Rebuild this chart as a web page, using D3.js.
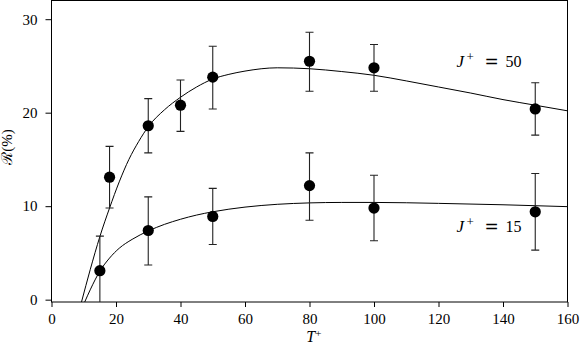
<!DOCTYPE html>
<html>
<head>
<meta charset="utf-8">
<script src="https://cdn.jsdelivr.net/npm/d3@7"></script>
<style>
  body { margin: 0; background: #fff; }
  text { font-family: "Liberation Serif", "DejaVu Serif", serif; }
</style>
</head>
<body>
<div id="my_dataviz"></div>
<script>
// measured points, J+ = 50
var tPlus50 = [18, 30, 40, 50, 80, 100, 150];
var r50     = [13.1, 18.6, 20.8, 23.8, 25.5, 24.8, 20.4];
var r50Lo   = [9.8, 15.7, 18.0, 20.4, 22.3, 22.3, 17.6];
var r50Hi   = [16.4, 21.5, 23.5, 27.1, 28.6, 27.3, 23.2];

// measured points, J+ = 15
var tPlus15 = [15, 30, 50, 80, 100, 150];
var r15     = [3.1, 7.4, 8.9, 12.2, 9.8, 9.4];
var r15Lo   = [-0.6, 3.7, 5.9, 8.5, 6.3, 5.3];
var r15Hi   = [6.8, 11.0, 11.9, 15.7, 13.3, 13.5];

// fitted curves
var fitT50 = [9.3, 12, 15, 18, 21, 24, 27, 30, 35, 40, 45, 50, 55, 60, 70, 80, 90, 100, 110, 120, 130, 140, 150, 160];
var fitR50 = [-0.25, 3.2, 6.75, 9.8, 12.6, 15.0, 16.9, 18.5, 20.3, 21.65, 22.75, 23.6, 24.1, 24.45, 24.8, 24.7, 24.4, 24.0, 23.4, 22.75, 22.1, 21.4, 20.8, 20.2];
var fitT15 = [10.3, 12, 15, 18, 21, 25, 30, 35, 40, 45, 50, 60, 70, 80, 90, 100, 120, 140, 160];
var fitR15 = [-0.25, 1.05, 3.05, 4.45, 5.5, 6.45, 7.35, 8.05, 8.6, 9.05, 9.4, 9.9, 10.2, 10.35, 10.4, 10.4, 10.3, 10.15, 9.95];

// tick values
var xTicks = [0, 20, 40, 60, 80, 100, 120, 140, 160];
var yTicks = [0, 10, 20, 30];

// plot box (pixels)
var W = 581, H = 348;
var box = {left: 51.5, right: 567.5, top: 0.5, bottom: 302};

var svg = d3.select("#my_dataviz")
  .append("svg")
    .attr("width", W)
    .attr("height", H);

var x = d3.scaleLinear().domain([0, 160]).range([box.left, box.right]);
var y = d3.scaleLinear().domain([-0.25, 32]).range([box.bottom, box.top]);

svg.append("clipPath").attr("id", "plotclip")
  .append("rect")
    .attr("x", box.left).attr("y", box.top)
    .attr("width", box.right - box.left).attr("height", box.bottom - box.top);

// axes
var xAxis = svg.append("g")
  .attr("transform", "translate(0," + box.bottom + ")")
  .call(d3.axisBottom(x).tickValues(xTicks).tickSize(5).tickPadding(6).tickSizeOuter(0));
var yAxis = svg.append("g")
  .attr("transform", "translate(" + box.left + ",0)")
  .call(d3.axisLeft(y).tickValues(yTicks).tickSize(6).tickPadding(8).tickSizeOuter(0));
[xAxis, yAxis].forEach(function(a) {
  a.select(".domain").remove();
  a.selectAll("line").attr("stroke", "#000");
  a.selectAll("text").attr("fill", "#000").style("font-size", "15px")
    .style("font-family", "'Liberation Serif', serif");
});

// frame
svg.append("rect")
  .attr("x", box.left).attr("y", box.top)
  .attr("width", box.right - box.left).attr("height", box.bottom - box.top)
  .attr("fill", "none").attr("stroke", "#000").attr("stroke-width", 1);

var plot = svg.append("g").attr("clip-path", "url(#plotclip)");

var line = d3.line()
  .x(function(d) { return x(d[0]); })
  .y(function(d) { return y(d[1]); })
  .curve(d3.curveMonotoneX);

plot.append("path")
  .datum(d3.zip(fitT50, fitR50))
  .attr("d", line).attr("fill", "none").attr("stroke", "#000").attr("stroke-width", 1);
plot.append("path")
  .datum(d3.zip(fitT15, fitR15))
  .attr("d", line).attr("fill", "none").attr("stroke", "#000").attr("stroke-width", 1);

function drawSeries(ts, rs, lo, hi) {
  var data = ts.map(function(t, i) { return {t: t, r: rs[i], lo: lo[i], hi: hi[i]}; });
  var g = plot.append("g");
  var eb = g.selectAll(".eb").data(data).enter().append("g");
  eb.append("line")
    .attr("x1", function(d) { return x(d.t); }).attr("x2", function(d) { return x(d.t); })
    .attr("y1", function(d) { return y(d.lo); }).attr("y2", function(d) { return y(d.hi); });
  eb.append("line")
    .attr("x1", function(d) { return x(d.t) - 4; }).attr("x2", function(d) { return x(d.t) + 4; })
    .attr("y1", function(d) { return y(d.hi); }).attr("y2", function(d) { return y(d.hi); });
  eb.append("line")
    .attr("x1", function(d) { return x(d.t) - 4; }).attr("x2", function(d) { return x(d.t) + 4; })
    .attr("y1", function(d) { return y(d.lo); }).attr("y2", function(d) { return y(d.lo); });
  eb.selectAll("line").attr("stroke", "#222").attr("stroke-width", 1.1);
  g.selectAll("circle").data(data).enter().append("circle")
    .attr("cx", function(d) { return x(d.t); })
    .attr("cy", function(d) { return y(d.r); })
    .attr("r", 5.6)
    .attr("fill", "#000");
}
drawSeries(tPlus50, r50, r50Lo, r50Hi);
drawSeries(tPlus15, r15, r15Lo, r15Hi);

// series labels, spaced like TeX math
function jLabel(tx, ry, val) {
  var x0 = x(tx), y0 = y(ry);
  var g = svg.append("g");
  g.append("text").attr("x", x0).attr("y", y0)
    .style("font-size", "17px").style("font-style", "italic").text("J");
  g.append("text").attr("x", x0 + 10).attr("y", y0 - 6)
    .style("font-size", "13px").text("+");
  g.append("text").attr("x", x0 + 28).attr("y", y0)
    .style("font-size", "17px").style("font-family", "'DejaVu Sans', sans-serif").text("=");
  g.append("text").attr("x", x0 + 49).attr("y", y0)
    .style("font-size", "16px").text(val);
}
jLabel(125.6, 24.9, "50");
jLabel(125.6, 7.2, "15");

// axis label T+ : letter and raised plus as separate texts
var xlx = x(79), xly = 342;
svg.append("text")
  .attr("x", xlx).attr("y", xly)
  .style("font-size", "16px").style("font-style", "italic").text("T");
svg.append("text")
  .attr("x", xlx + 9).attr("y", xly - 5)
  .style("font-size", "11px").text("+");

svg.append("text")
  .attr("transform", "translate(12," + 147 + ") rotate(-90)")
  .style("text-anchor", "middle").style("font-size", "15px")
  .text("ℛ(%)");
</script>
</body>
</html>
